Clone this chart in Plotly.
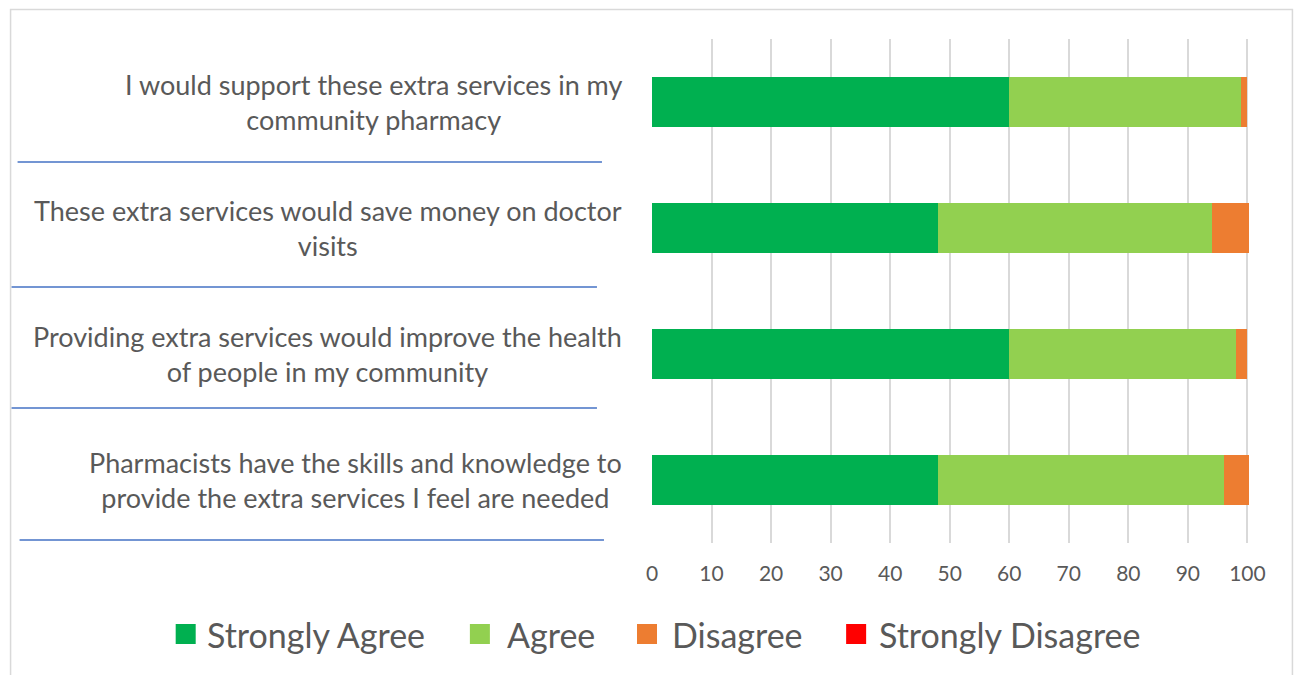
import plotly.graph_objects as go

categories = [
    "I would support these extra services in my<br>community pharmacy",
    "These extra services would save money on doctor<br>visits",
    "Providing extra services would improve the health<br>of people in my community",
    "Pharmacists have the skills and knowledge to<br>provide the extra services I feel are needed",
]
series_names = ["Strongly Agree", "Agree", "Disagree", "Strongly Disagree"]
strongly_agree = [60, 48, 60, 48]
agree = [39, 46, 38, 48]
disagree = [1, 6.3, 2, 4.3]
strongly_disagree = [0, 0, 0, 0]
tick_values = [0, 10, 20, 30, 40, 50, 60, 70, 80, 90, 100]

colors = ["#00B050", "#92D050", "#ED7D31", "#FF0000"]
values = [strongly_agree, agree, disagree, strongly_disagree]

W, H = 1298, 675
L, R, T, B = 652, 1250.6, 39, 543
XMAX = 100.6
TEXT = "#595959"

def px_x(p):
    return (p - L) / (R - L)

def px_y(p):
    return (B - p) / (B - T)

fig = go.Figure()
for name, vals, col in zip(series_names, values, colors):
    fig.add_trace(go.Bar(
        y=categories, x=vals, name=name, orientation="h",
        marker=dict(color=col, line=dict(width=0)),
        showlegend=False, hoverinfo="x+name",
    ))

annotations = []
for cat in categories:
    annotations.append(dict(
        x=px_x(624), xref="paper", y=cat, yref="y",
        text=cat, showarrow=False, xanchor="right", yanchor="middle",
        align="center", font=dict(family="Lato", size=27, color=TEXT),
    ))

shapes = []
sep_lines = [(18, 602, 162), (12, 597, 287), (12, 597, 408), (20, 604, 540)]
for x0, x1, yy in sep_lines:
    shapes.append(dict(type="line", xref="paper", yref="paper",
                       x0=px_x(x0), x1=px_x(x1), y0=px_y(yy), y1=px_y(yy),
                       line=dict(color="#4472C4", width=1.4)))
shapes.append(dict(type="rect", xref="paper", yref="paper",
                   x0=px_x(11), x1=px_x(1292), y0=px_y(9.5), y1=px_y(700),
                   line=dict(color="#D9D9D9", width=1.5), layer="below"))

# legend (drawn manually so that it sits on one row like the reference)
legend_square_x = [176, 470, 637, 846]
legend_text_x = [205, 505, 670, 877]
legend_y = 634
for name, col, sx, tx in zip(series_names, colors, legend_square_x, legend_text_x):
    shapes.append(dict(type="rect", xref="paper", yref="paper",
                       x0=px_x(sx), x1=px_x(sx + 20),
                       y0=px_y(legend_y - 10), y1=px_y(legend_y + 10),
                       fillcolor=col, line=dict(width=0)))
    annotations.append(dict(
        x=px_x(tx), xref="paper", y=px_y(legend_y), yref="paper",
        text=name, showarrow=False, xanchor="left", yanchor="middle",
        font=dict(family="Lato", size=34, color=TEXT),
    ))

fig.update_layout(
    width=W, height=H,
    margin=dict(l=L, r=W - R, t=T, b=H - B, autoexpand=False),
    barmode="stack", bargap=0.6, showlegend=False,
    plot_bgcolor="white", paper_bgcolor="white",
    xaxis=dict(range=[0, XMAX], tickvals=tick_values, showgrid=True,
               gridcolor="#D9D9D9", gridwidth=1.5, zeroline=False,
               showline=False, ticks="", ticklabelstandoff=16,
               tickfont=dict(family="Lato", size=21, color=TEXT)),
    yaxis=dict(autorange="reversed", showticklabels=False, showgrid=False,
               zeroline=False, showline=False),
    annotations=annotations, shapes=shapes,
)
fig.write_html("out.html")
